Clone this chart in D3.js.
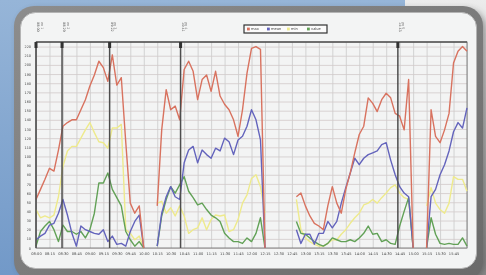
<!DOCTYPE html>
<html>
<head>
<meta charset="utf-8">
<script src="https://cdn.jsdelivr.net/npm/d3@7"></script>
<style>
  body { margin: 0; overflow: hidden; background: #8fb1d6; }
  text { font-family: "DejaVu Sans", sans-serif; }
</style>
</head>
<body>
<div class="chart"></div>
<script>
// 5 minute samples from 08:00 to 16:00, null = no data
const stepMin = 5;
const red = [53,64,75,87,84,107,133,137,140,140,151,162,177,189,204,197,182,211,178,186,115,49,38,46,0,
  null,null,
  46,129,173,151,155,140,195,204,193,162,184,189,171,193,166,157,151,140,122,151,191,218,220,217,0,
  null,null,null,null,null,null,
  56,60,46,35,27,24,20,46,67,49,38,64,82,104,124,133,164,158,149,162,169,164,147,144,129,184,0,
  null,null,
  0,151,122,115,129,147,202,215,220,215];
const blue = [9,13,16,25,27,38,53,36,16,2,24,20,18,16,15,20,7,13,4,5,2,18,29,36,0,
  null,null,
  2,38,56,67,56,53,93,107,111,93,107,102,98,109,106,120,116,102,118,122,133,151,140,118,0,
  null,null,null,null,null,null,
  20,5,15,15,4,16,16,29,22,29,49,66,82,98,91,98,102,104,106,113,115,96,80,67,60,56,0,
  null,null,
  0,56,64,80,91,106,127,137,131,153];
const yellow = [42,33,35,33,36,56,89,106,111,111,120,129,137,126,116,115,109,131,131,135,20,16,9,13,0,
  null,null,
  49,51,38,44,35,46,35,16,20,22,33,20,31,36,35,36,18,20,31,49,58,76,80,67,38,
  null,null,null,null,null,null,
  53,20,11,7,4,2,2,5,9,9,15,20,27,33,38,47,49,53,49,55,60,66,69,60,55,53,0,
  null,null,
  46,66,49,42,38,49,78,75,75,62];
const green = [2,18,24,29,20,7,25,18,18,15,18,11,20,38,71,71,82,64,55,46,18,9,2,7,0,
  null,null,
  2,35,53,67,60,69,78,62,55,47,49,42,36,33,29,16,11,7,7,5,11,7,16,33,0,
  null,null,null,null,null,null,
  29,16,15,11,7,4,2,5,11,9,7,7,9,7,11,16,24,15,16,7,9,5,4,24,40,55,0,
  null,null,
  0,33,15,5,4,5,4,4,11,2];

const xTickLabels = ['08:00','08:15','08:30','08:45','09:00','09:15','09:30','09:45',
  '10:00','10:15','10:30','10:45','11:00','11:15','11:30','11:45',
  '12:00','12:15','12:30','12:45','13:00','13:15','13:30','13:45',
  '14:00','14:15','14:30','14:45','15:00','15:15','15:30','15:45'];
const yTicks = [0,10,20,30,40,50,60,70,80,90,100,110,120,130,140,150,160,170,180,190,200,210,220];
const markerMinutes = [0, 29, 82, 161, 403];
const markerLabels = ['08:00', '08:29', '09:22', '10:41', '14:43'];
const legendLabels = ['max', 'mean', 'min', 'value'];

const seriesColors = ['#d8725f', '#6464bc', '#eeea8c', '#62a157'];

const svg = d3.select('.chart')
    .append('svg')
    .attr('width', 486)
    .attr('height', 275);

const defs = svg.append('defs');
const bg = defs.append('linearGradient').attr('id', 'bg').attr('x1', 0).attr('y1', 0).attr('x2', 0).attr('y2', 1);
bg.append('stop').attr('offset', '0%').attr('stop-color', '#96b5d8');
bg.append('stop').attr('offset', '100%').attr('stop-color', '#7299c8');
const side = defs.append('linearGradient').attr('id', 'side').attr('x1', 0).attr('y1', 0).attr('x2', 0).attr('y2', 1);
side.append('stop').attr('offset', '0%').attr('stop-color', '#ececec');
side.append('stop').attr('offset', '40%').attr('stop-color', '#c8c8c8');
side.append('stop').attr('offset', '100%').attr('stop-color', '#8a8a8a');
const frame = defs.append('linearGradient').attr('id', 'frame').attr('x1', 0).attr('y1', 0).attr('x2', 1).attr('y2', 1);
frame.append('stop').attr('offset', '0%').attr('stop-color', '#8d8d8d');
frame.append('stop').attr('offset', '100%').attr('stop-color', '#6a6a6a');
defs.append('filter').attr('id', 'soft')
    .append('feGaussianBlur').attr('stdDeviation', 0.35);
defs.append('filter').attr('id', 'shadow')
    .append('feGaussianBlur').attr('stdDeviation', 3);

// background
svg.append('rect').attr('width', 486).attr('height', 275).style('fill', 'url(#bg)');
svg.append('rect').attr('x', 405).attr('width', 81).attr('height', 275).style('fill', 'url(#side)');

// framed panel
svg.append('rect')
    .attr('x', 17).attr('y', 9).attr('width', 469).attr('height', 272)
    .attr('rx', 20)
    .style('fill', '#3a3a3a').style('opacity', 0.45)
    .attr('filter', 'url(#shadow)');
svg.append('rect')
    .attr('x', 14).attr('y', 6).attr('width', 469).attr('height', 275)
    .attr('rx', 20)
    .style('fill', 'url(#frame)');
svg.append('rect')
    .attr('x', 20.5).attr('y', 12.5).attr('width', 456).attr('height', 256)
    .attr('rx', 15)
    .style('fill', '#f3f4f4')
    .style('stroke', '#b4b4b4');

const chart = svg.append('g').attr('filter', 'url(#soft)');

const x = d3.scaleLinear().domain([0, 480]).range([36, 467]);
const y = d3.scaleLinear().domain([0, 225]).range([248, 42]);

// grid
chart.append('g')
    .attr('class', 'xgrid')
    .attr('transform', 'translate(0,248)')
    .call(d3.axisBottom(x).tickValues(d3.range(0, 481, 15)).tickSize(-206).tickFormat(''))
    .call(g => g.select('.domain').remove())
    .call(g => g.selectAll('line').attr('stroke', '#c9c9c9').attr('stroke-width', 0.8));
chart.append('g')
    .attr('class', 'ygrid')
    .attr('transform', 'translate(36,0)')
    .call(d3.axisLeft(y).tickValues(yTicks).tickSize(-431).tickFormat(''))
    .call(g => g.select('.domain').remove())
    .call(g => g.selectAll('line').attr('stroke', '#d2c9c9').attr('stroke-width', 0.8));

// plot frame
chart.append('rect')
    .attr('x', x(0)).attr('y', y(225))
    .attr('width', x(480) - x(0)).attr('height', y(0) - y(225))
    .style('fill', 'none').style('stroke', '#777').style('stroke-width', 0.9);
chart.append('line')
    .attr('x1', x(0)).attr('x2', x(480)).attr('y1', y(225)).attr('y2', y(225))
    .style('stroke', '#555').style('stroke-width', 1.4);

// axis labels
chart.append('g')
    .attr('transform', 'translate(0,250)')
    .call(d3.axisBottom(x).tickValues(d3.range(0, 480, 15)).tickSize(0)
        .tickFormat((d, i) => xTickLabels[i]))
    .call(g => g.select('.domain').remove())
    .call(g => g.selectAll('text').attr('dy', '0.5em').style('font-size', '3.6px').style('fill', '#444'));
chart.append('g')
    .attr('transform', 'translate(34,0)')
    .call(d3.axisLeft(y).tickValues(yTicks).tickSize(0))
    .call(g => g.select('.domain').remove())
    .call(g => g.selectAll('text').attr('dx', 0).style('font-size', '3.4px').style('fill', '#444'));

// series
const line = d3.line()
    .defined(d => d !== null)
    .x((d, i) => x(i * stepMin))
    .y(d => y(d));

[yellow, green, blue, red].forEach((data, k) => {
    const color = [seriesColors[2], seriesColors[3], seriesColors[1], seriesColors[0]][k];
    chart.append('path')
        .datum(data)
        .attr('fill', 'none')
        .attr('stroke', color)
        .attr('stroke-width', 1.4)
        .attr('stroke-linejoin', 'round')
        .attr('d', line);
});

// event markers
markerMinutes.forEach((m, i) => {
    chart.append('line')
        .attr('x1', x(m)).attr('x2', x(m))
        .attr('y1', y(225)).attr('y2', y(0))
        .style('stroke', '#4d4d4d').style('stroke-width', 1.5);
    chart.append('rect')
        .attr('x', x(m) - 1.5).attr('y', y(225))
        .attr('width', 3).attr('height', 6)
        .style('fill', '#333');
    chart.append('text')
        .attr('transform', 'translate(' + (x(m) + 1) + ',22) rotate(90)')
        .style('font-size', '3.4px').style('fill', '#555')
        .text(markerLabels[i]);
    chart.append('text')
        .attr('transform', 'translate(' + (x(m) + 4.5) + ',22) rotate(90)')
        .style('font-size', '3.4px').style('fill', '#777')
        .text('ev ' + (i + 1));
});

// legend
const legend = chart.append('g').attr('transform', 'translate(244,25)');
legend.append('rect')
    .attr('width', 83).attr('height', 8)
    .style('fill', '#fbfbfb').style('stroke', '#333').style('stroke-width', 1.2);
legendLabels.forEach((label, i) => {
    legend.append('rect')
        .attr('x', 3 + i * 20).attr('y', 2.6)
        .attr('width', 2.8).attr('height', 2.8)
        .style('fill', seriesColors[i]);
    legend.append('text')
        .attr('x', 7 + i * 20).attr('y', 5.4)
        .style('font-size', '3.6px').style('fill', '#444')
        .text(label);
});
</script>
</body>
</html>
